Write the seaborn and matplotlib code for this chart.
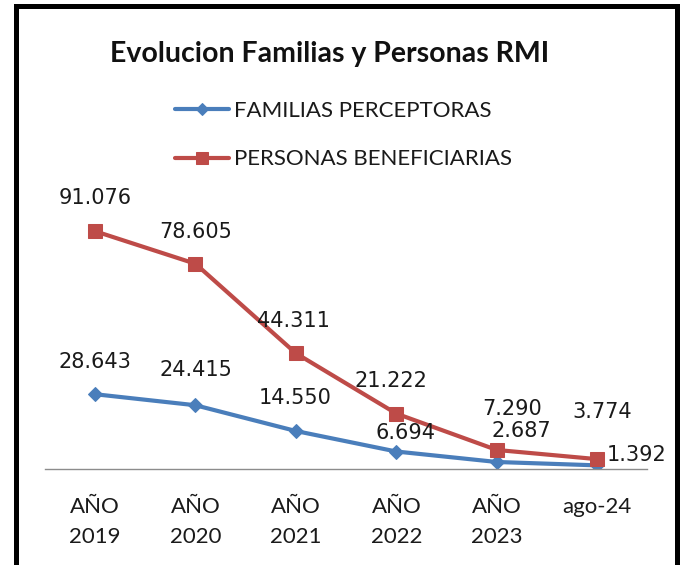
import matplotlib
matplotlib.use("Agg")
import matplotlib.pyplot as plt
from matplotlib.patches import Rectangle
import seaborn as sns
import pandas as pd

# ---- data ----
categories = ["AÑO\n2019", "AÑO\n2020", "AÑO\n2021", "AÑO\n2022", "AÑO\n2023", "ago-24"]
familias = [28643, 24415, 14550, 6694, 2687, 1392]
personas = [91076, 78605, 44311, 21222, 7290, 3774]
series_names = ["FAMILIAS PERCEPTORAS", "PERSONAS BENEFICIARIAS"]
title = "Evolucion Familias y Personas RMI"

# label offsets (pixels: dx, dy up) -- styling only
fam_off = [(0, 32), (0, 35), (-1, 33), (9, 19), (25, 31), (39, 10)]
per_off = [(0, 33), (0, 32), (-2, 32), (-5, 33), (15, 41), (5, 47)]

BLUE = "#4A7EBB"
RED = "#BE4B48"


def fmt(v):
    return f"{v:,}".replace(",", ".")


sns.set_theme(style="white")
plt.rcParams["font.family"] = ["Lato", "DejaVu Sans"]

W, H = 685, 565
fig = plt.figure(figsize=(W / 100, H / 100), dpi=100)
fig.patch.set_facecolor("white")
ax = fig.add_axes([44.8 / W, 96 / H, 602.6 / W, 319 / H])

df_f = pd.DataFrame({"cat": categories, "val": familias})
df_p = pd.DataFrame({"cat": categories, "val": personas})

sns.lineplot(data=df_f, x="cat", y="val", ax=ax, color=BLUE, linewidth=3,
             marker="D", markersize=7.5, markeredgecolor=BLUE, sort=False,
             label=series_names[0])
sns.lineplot(data=df_p, x="cat", y="val", ax=ax, color=RED, linewidth=3,
             marker="s", markersize=10.5, markeredgecolor=RED, sort=False,
             label=series_names[1])

ax.set_xlim(-0.5, len(categories) - 0.5)
ax.set_ylim(0, 122177)
ax.set_xlabel("")
ax.set_ylabel("")
ax.set_yticks([])
ax.set_xticks(range(len(categories)))
ax.set_xticklabels(categories, fontsize=16, color="#1a1a1a", linespacing=1.65)
ax.tick_params(axis="x", length=0, pad=20)
for s in ["left", "right", "top"]:
    ax.spines[s].set_visible(False)
ax.spines["bottom"].set_color("#8c8c8c")
ax.spines["bottom"].set_linewidth(1.0)
ax.set_facecolor("none")

for i, (v, (dx, dy)) in enumerate(zip(familias, fam_off)):
    ax.annotate(fmt(v), (i, v), xytext=(dx * 0.72, dy * 0.72), textcoords="offset points",
                ha="center", va="center", fontsize=15, color="#1a1a1a",
                family="DejaVu Sans")
for i, (v, (dx, dy)) in enumerate(zip(personas, per_off)):
    ax.annotate(fmt(v), (i, v), xytext=(dx * 0.72, dy * 0.72), textcoords="offset points",
                ha="center", va="center", fontsize=15, color="#1a1a1a",
                family="DejaVu Sans")

leg = ax.legend(loc="upper left", bbox_to_anchor=(175 / W, 1 - 101 / H),
                bbox_transform=fig.transFigure, frameon=False, fontsize=16,
                handlelength=2.45, handletextpad=0.2, labelspacing=1.28,
                borderpad=0, borderaxespad=0, markerscale=0.8)
for t in leg.get_texts():
    t.set_color("#1a1a1a")

fig.text(330 / W, 1 - 54 / H, title, ha="center", va="center",
         fontsize=20.5, fontweight="bold", color="#111111")

fig.add_artist(Rectangle((15.5 / W, -0.1), (677 - 15.5) / W, (H - 6.5) / H + 0.1,
                         transform=fig.transFigure, fill=False, lw=3.6,
                         edgecolor="black"))

fig.savefig("out.png", dpi=100)
